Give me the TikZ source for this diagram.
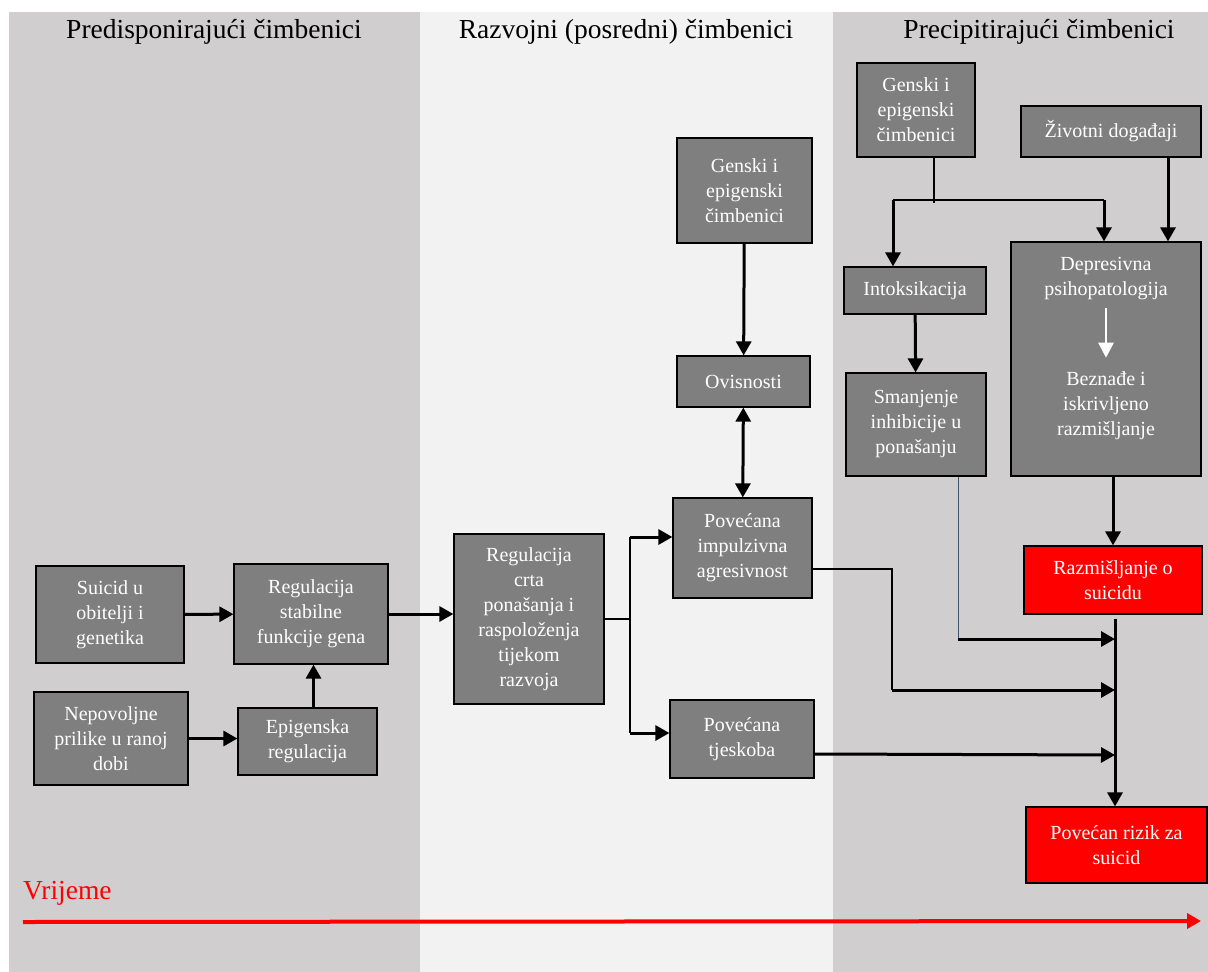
\documentclass[tikz,border=0pt]{standalone}
\usepackage{fontspec}
\setmainfont{Liberation Serif}
\usepackage{tikz}
\usetikzlibrary{positioning,arrows}
\usetikzlibrary{arrows.meta}
\usepackage{xcolor}
\definecolor{paneldark}{HTML}{D0CECE}
\definecolor{panellight}{HTML}{F2F2F2}
\definecolor{boxgray}{HTML}{7F7F7F}
\definecolor{slate}{HTML}{44546A}

\begin{document}
\begin{tikzpicture}[x=1pt,y=-1pt]
	\useasboundingbox (0,0) rectangle (1208,972);
	% panels
	\fill[paneldark] (9,12) rectangle (420,972);
	\fill[panellight] (420,12) rectangle (833,972);
	\fill[paneldark] (833,12) rectangle (1208,972);

	\tikzstyle{every node}=[inner sep=0pt, align=center]
	\tikzstyle{head}=[anchor=base, font=\fontsize{27.5}{33}\selectfont]
	\tikzstyle{gbox}=[draw, line width=1.2pt, fill=boxgray, text=white, font=\fontsize{20}{25}\selectfont]
	\tikzstyle{rbox}=[gbox, fill=red]
	\tikzstyle{txt}=[text=white, font=\fontsize{20}{25}\selectfont]
	\tikzstyle{arr}=[line width=3pt, -{Triangle[length=14pt,width=15pt]}]
	\tikzstyle{conn}=[line width=1.2pt]

	\draw (214,38) node (headL) [head] {Predisponirajući čimbenici};
	\draw (626,38) node (headM) [head] {Razvojni (posredni) čimbenici};
	\draw (1039,38) node (headR) [head] {Precipitirajući čimbenici};

	% predisponirajuci
	\draw (110,614.5) node (suic) [gbox, minimum width=148pt, minimum height=97pt] {Suicid u\\obitelji i\\genetika};
	\draw (311,614) node (regst) [gbox, minimum width=154pt, minimum height=100pt] {Regulacija\\stabilne\\funkcije gena};
	\draw (111,738.5) node (nepov) [gbox, minimum width=154pt, minimum height=93pt] {Nepovoljne\\prilike u ranoj\\dobi};
	\draw (307.5,741.5) node (epig) [gbox, minimum width=139pt, minimum height=67pt] {Epigenska\\regulacija};

	% razvojni
	\draw (529,619) node (regcrt) [gbox, minimum width=150pt, minimum height=170pt] {Regulacija\\crta\\ponašanja i\\raspoloženja\\tijekom\\razvoja};
	\draw (744.5,190.5) node (genmid) [gbox, minimum width=135pt, minimum height=105pt] {Genski i\\epigenski\\čimbenici};
	\draw (743.5,381.5) node (ovis) [gbox, minimum width=133pt, minimum height=51pt] {Ovisnosti};
	\draw (742.5,548) node (impul) [gbox, minimum width=139pt, minimum height=100pt] {Povećana\\impulzivna\\agresivnost};
	\draw (742,739) node (tjesk) [gbox, minimum width=144pt, minimum height=78pt] {Povećana\\tjeskoba};

	% precipitirajuci
	\draw (916,110) node (genr) [gbox, minimum width=118pt, minimum height=94pt] {Genski i\\epigenski\\čimbenici};
	\draw (1111,131.5) node (ziv) [gbox, minimum width=180pt, minimum height=51pt] {Životni događaji};
	\draw (915,290.5) node (intok) [gbox, minimum width=142pt, minimum height=47pt] {Intoksikacija};
	\draw (916,424.5) node (smanj) [gbox, minimum width=140pt, minimum height=103pt] {Smanjenje\\inhibicije u\\ponašanju};
	\draw (1106,359) node (depr) [gbox, minimum width=190pt, minimum height=234pt] {};
	\draw (1106,278.5) node (depA) [txt] {Depresivna\\psihopatologija};
	\draw (1106,406) node (depB) [txt] {Beznađe i\\iskrivljeno\\razmišljanje};
	\draw (1113,580) node (razm) [rbox, minimum width=178pt, minimum height=68pt] {Razmišljanje o\\suicidu};
	\draw (1116.5,845) node (rizik) [rbox, minimum width=181pt, minimum height=76pt] {Povećan rizik za\\suicid};

	\coordinate (split) at (630,619);
	\coordinate (splitT) at (630,537);
	\coordinate (splitB) at (630,733);
	\coordinate (forkR) at (934,200);
	\coordinate (forkA) at (893,200);
	\coordinate (forkB) at (1104,200);
	\coordinate (kneeB) at (892,690);
	\coordinate (busA) at (1115,639);
	\coordinate (busB) at (1115,690);
	\coordinate (busC) at (1115,755);

	% left part
	\draw [arr] (suic) -- (regst);
	\draw [arr] (nepov.east) -- (nepov.east -| epig.west);
	\draw [arr] ([xshift=6pt]epig.north) -- ([xshift=6pt]epig.north |- regst.south);
	\draw [arr] (regst.east) -- (regst.east -| regcrt.west);

	% middle part
	\draw [conn] (regcrt.east) -- (split);
	\draw [line width=2pt] (splitT) -- (splitB);
	\draw [arr] (splitT) -- (splitT -| impul.west);
	\draw [arr] (splitB) -- (splitB -| tjesk.west);
	\draw [arr] (genmid) -- (ovis);
	\draw [line width=3pt, {Triangle[length=14pt,width=15pt]}-{Triangle[length=14pt,width=15pt]}] (ovis) -- (impul);
	\draw [conn] ([yshift=-21pt]impul.east) -| (kneeB);
	\draw [arr] (kneeB) -- (busB);
	\draw [arr] ([yshift=-15pt]tjesk.east) -- (busC);

	% right part
	\draw [conn] ([xshift=18pt]genr.south) -- ([yshift=-3pt]forkR);
	\draw [conn] (forkA) -- (forkB);
	\draw [arr] (forkA) -- (forkA |- intok.north);
	\draw [arr] (forkB) -- (forkB |- depr.north);
	\draw [arr] ([xshift=57pt]ziv.south) -- ([xshift=57pt]ziv.south |- depr.north);
	\draw [arr] (intok) -- (smanj);
	\draw [white, line width=2.6pt, -{Triangle[length=15pt,width=15pt]}, shorten <=8pt, shorten >=14pt] (depA.south) -- (depB.north);
	\draw [arr] (depr.south -| razm.north) -- (razm.north);
	\draw [slate, line width=1pt] ([xshift=42pt]smanj.south) -- ([xshift=42pt]smanj.south |- busA);
	\draw [arr] ([xshift=42pt]smanj.south |- busA) -- (busA);
	\draw [arr, shorten <=4pt] (razm.south -| busA) -- (rizik.north -| busA);

	% time axis
	\draw (23,899) node (vrij) [anchor=base west, text=red, font=\fontsize{27.5}{33}\selectfont] {Vrijeme};
	\coordinate (tstart) at (23,922);
	\coordinate (tend) at (1201,921);
	\draw [red, line width=4pt, -{Triangle[length=14pt,width=15pt]}] (tstart) -- (tend);
\end{tikzpicture}
\end{document}
